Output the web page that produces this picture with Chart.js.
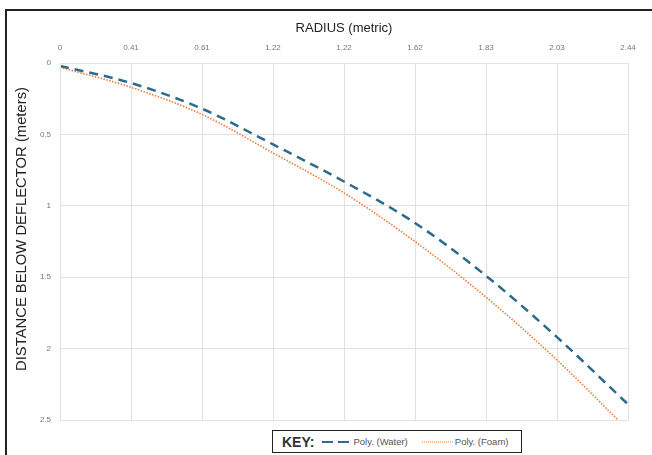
<!DOCTYPE html>
<html>
<head>
<meta charset="utf-8">
<script src="https://cdn.jsdelivr.net/npm/chart.js@4.4.1/dist/chart.umd.min.js"></script>
<style>
  html, body { margin: 0; padding: 0; background: #fff; overflow: hidden; }
  #wrap { position: relative; width: 652px; height: 455px; }
  #frame { position: absolute; left: 5px; top: 9px; width: 700px; height: 500px; border: 2px solid #222; box-sizing: border-box; }
  canvas { position: absolute; left: 0; top: 0; }
  #key { position: absolute; left: 272px; top: 430px; width: 250px; height: 23px; border: 1px solid #222;
         background: #fff; box-sizing: border-box; font-family: "Liberation Sans", Arial, sans-serif;
         display: flex; align-items: center; padding-left: 9px; white-space: nowrap; overflow: hidden; }
  #key b { font-size: 14px; color: #333; margin-right: 8px; flex-shrink: 0; }
  #key .item { display: flex; align-items: center; font-size: 9.5px; color: #555; margin-right: 14px; flex-shrink: 0; white-space: nowrap; }
  #key svg { margin-right: 1px; flex-shrink: 0; }
</style>
</head>
<body>
<div id="wrap">
  <div id="frame"></div>
  <canvas id="chart" width="652" height="455"></canvas>
  <div id="key"><b>KEY:</b></div>
</div>
<script>
// x tick labels as printed on the original (top axis)
const radiusLabels = ["0", "0.41", "0.61", "1.22", "1.22", "1.62", "1.83", "2.03", "2.44"];
const yTicks = [0, 0.5, 1, 1.5, 2, 2.5];

// distance below deflector (m) at each grid line
const waterValues = [0.02, 0.14, 0.32, 0.57, 0.83, 1.12, 1.49, 1.92, 2.39];
const foamValues  = [0.03, 0.17, 0.36, 0.63, 0.91, 1.25, 1.64, 2.08, 2.57];

const seriesNames = ["Poly. (Water)", "Poly. (Foam)"];
const yTitle = "DISTANCE BELOW DEFLECTOR (meters)";
const blue = "#2c6b8c";
const orange = "#f07a3a";

const toPoints = (vals) => vals.map((v, i) => ({ x: i, y: v }));

// plot area border + rotated y title (placed a bit above centre like the original)
const extras = {
  id: "extras",
  afterDraw(chart) {
    const { ctx, chartArea: a } = chart;
    ctx.save();
    ctx.strokeStyle = "#e2e2e2";
    ctx.lineWidth = 1;
    ctx.strokeRect(a.left + 0.5, a.top + 0.5, a.right - a.left, a.bottom - a.top);
    ctx.translate(22, 229);
    ctx.rotate(-Math.PI / 2);
    ctx.fillStyle = "#222";
    ctx.font = "14.8px 'Liberation Sans'";
    ctx.textAlign = "center";
    ctx.textBaseline = "middle";
    ctx.fillText(yTitle, 0, 0);
    ctx.restore();
  }
};

new Chart(document.getElementById("chart"), {
  type: "line",
  data: {
    datasets: [
      {
        label: seriesNames[0],
        data: toPoints(waterValues),
        borderColor: blue,
        borderWidth: 2.5,
        borderDash: [9, 6],
        pointRadius: 0,
        cubicInterpolationMode: "monotone",
        fill: false,
      },
      {
        label: seriesNames[1],
        data: toPoints(foamValues),
        borderColor: orange,
        borderWidth: 1.6,
        borderDash: [1.5, 1.5],
        pointRadius: 0,
        cubicInterpolationMode: "monotone",
        fill: false,
      },
    ],
  },
  options: {
    responsive: false,
    animation: false,
    layout: { padding: { left: 0, top: 0, right: 24, bottom: 35 } },
    plugins: { legend: { display: false }, tooltip: { enabled: false } },
    scales: {
      x: {
        type: "linear",
        position: "top",
        min: 0,
        max: radiusLabels.length - 1,
        afterFit: (s) => { s.height = 63; },
        afterBuildTicks: (s) => { s.ticks = radiusLabels.map((_, i) => ({ value: i })); },
        ticks: {
          padding: 10,
          color: "#777",
          font: { family: "Liberation Sans", size: 8 },
          callback: (v) => radiusLabels[v],
        },
        grid: { color: "#e2e2e2", drawTicks: false },
        border: { display: false },
        title: {
          display: true,
          text: "RADIUS (metric)",
          color: "#222",
          font: { family: "Liberation Sans", size: 13 },
          padding: { top: 21, bottom: 0 },
        },
      },
      y: {
        reverse: true,
        min: 0,
        max: 2.5,
        afterFit: (s) => { s.width = 60; },
        afterBuildTicks: (s) => { s.ticks = yTicks.map((v) => ({ value: v })); },
        ticks: {
          padding: 9,
          color: "#777",
          font: { family: "Liberation Sans", size: 8 },
          callback: (v) => String(v),
        },
        grid: { color: "#e2e2e2", drawTicks: false },
        border: { display: false },
      },
    },
  },
  plugins: [extras],
});

// key box under the chart
const key = document.getElementById("key");
[[seriesNames[0], blue, "11,5", 2.2, 30], [seriesNames[1], orange, "1,1", 1.2, 32]].forEach(([name, col, dash, w, len]) => {
  const item = document.createElement("span");
  item.className = "item";
  item.innerHTML = `<svg width="${len}" height="6"><line x1="0" y1="3" x2="${len}" y2="3" stroke="${col}" stroke-width="${w}" stroke-dasharray="${dash}"/></svg>${name}`;
  key.appendChild(item);
});
</script>
</body>
</html>
